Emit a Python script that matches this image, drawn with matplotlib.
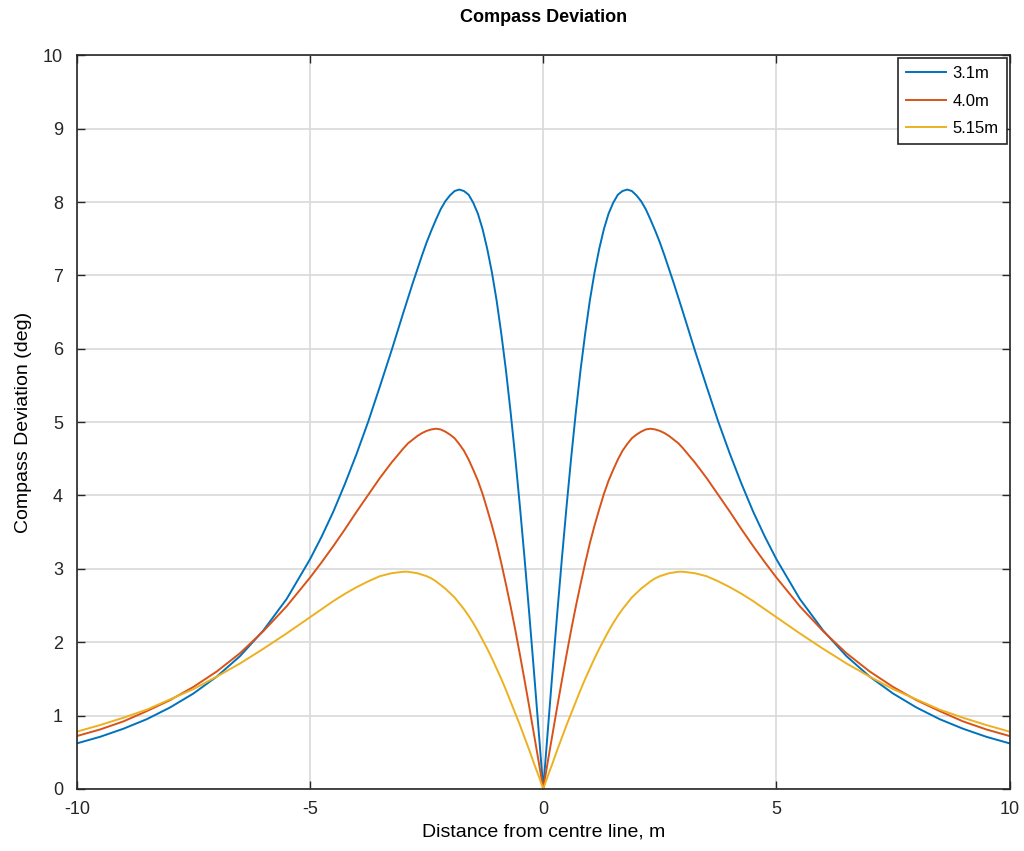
import numpy as np
import matplotlib.pyplot as plt

plt.rcParams['font.family'] = ['Liberation Sans', 'DejaVu Sans']
plt.rcParams['axes.unicode_minus'] = False

# distance from centre line (positive half, curves are symmetric)
dist = [0, 0.1, 0.2, 0.3, 0.4, 0.5, 0.6, 0.7, 0.8, 0.9, 1.0,
        1.1, 1.2, 1.3, 1.4, 1.5, 1.6, 1.7, 1.8, 1.9, 2.0,
        2.1, 2.2, 2.3, 2.4, 2.5, 2.6, 2.7, 2.8, 2.9, 3.0,
        3.25, 3.5, 3.75, 4.0, 4.25, 4.5, 4.75, 5.0,
        5.5, 6.0, 6.5, 7.0, 7.5, 8.0, 8.5, 9.0, 9.5, 10.0]

dev_31 = [0, 0.81, 1.61, 2.39, 3.14, 3.85, 4.52, 5.14, 5.71, 6.21, 6.66,
          7.04, 7.36, 7.63, 7.84, 7.99, 8.10, 8.15, 8.17, 8.15, 8.09,
          8.01, 7.90, 7.76, 7.61, 7.45, 7.27, 7.08, 6.89, 6.69, 6.49,
          5.98, 5.49, 5.01, 4.57, 4.16, 3.78, 3.44, 3.13,
          2.59, 2.16, 1.81, 1.53, 1.30, 1.11, 0.95, 0.82, 0.71, 0.62]
dev_40 = [0, 0.38, 0.75, 1.12, 1.48, 1.83, 2.17, 2.49, 2.79, 3.08, 3.35,
          3.59, 3.81, 4.02, 4.20, 4.35, 4.49, 4.61, 4.70, 4.78, 4.83,
          4.87, 4.90, 4.91, 4.90, 4.88, 4.85, 4.81, 4.76, 4.71, 4.64,
          4.45, 4.24, 4.01, 3.78, 3.54, 3.31, 3.09, 2.88,
          2.49, 2.15, 1.85, 1.60, 1.39, 1.21, 1.06, 0.92, 0.81, 0.72]
dev_515 = [0, 0.18, 0.35, 0.53, 0.70, 0.87, 1.03, 1.19, 1.35, 1.50, 1.64,
           1.78, 1.91, 2.03, 2.15, 2.26, 2.36, 2.45, 2.53, 2.61, 2.67,
           2.73, 2.78, 2.83, 2.87, 2.90, 2.92, 2.94, 2.95, 2.96, 2.96,
           2.94, 2.90, 2.83, 2.75, 2.66, 2.56, 2.45, 2.34,
           2.12, 1.91, 1.71, 1.53, 1.36, 1.22, 1.08, 0.97, 0.87, 0.78]

labels = ['3.1m', '4.0m', '5.15m']
colors = ['#0072BD', '#D95319', '#EDB120']


def mirror(v, neg=False):
    v = np.array(v)
    left = -v[:0:-1] if neg else v[:0:-1]
    return np.concatenate([left, v])


x = mirror(dist, neg=True)

fig = plt.figure(figsize=(10.24, 8.51), dpi=100)
ax = fig.add_axes([0.075, 0.073, 0.911, 0.862])

for y, lab, c in zip([dev_31, dev_40, dev_515], labels, colors):
    ax.plot(x, mirror(y), color=c, lw=1.4, label=lab)

ax.set_xlim(-10, 10)
ax.set_ylim(0, 10)
ax.set_xticks([-10, -5, 0, 5, 10])
ax.set_yticks(range(0, 11))
ax.grid(True, color='#d9d9d9', lw=1.2)
ax.set_axisbelow(True)
ax.tick_params(direction='in', top=True, right=True, labelsize=13, length=6, width=1,
               colors='#262626')
ax.tick_params(axis='x', pad=9)
ax.tick_params(axis='y', pad=10)
for s in ax.spines.values():
    s.set_linewidth(1.2)
    s.set_color('#262626')

ax.set_title('Compass Deviation', fontsize=13, fontweight='bold', pad=24)
ax.set_xlabel('Distance from centre line, m', fontsize=14, labelpad=4)
ax.set_ylabel('Compass Deviation (deg)', fontsize=14, labelpad=8)

leg = ax.legend(loc='upper right', fontsize=12, fancybox=False, edgecolor='#262626',
                framealpha=1, borderaxespad=0.15, handlelength=2.4, handletextpad=0.4,
                labelspacing=0.75, borderpad=0.5)
leg.get_frame().set_linewidth(1.2)

fig.savefig('out.png', dpi=100)
